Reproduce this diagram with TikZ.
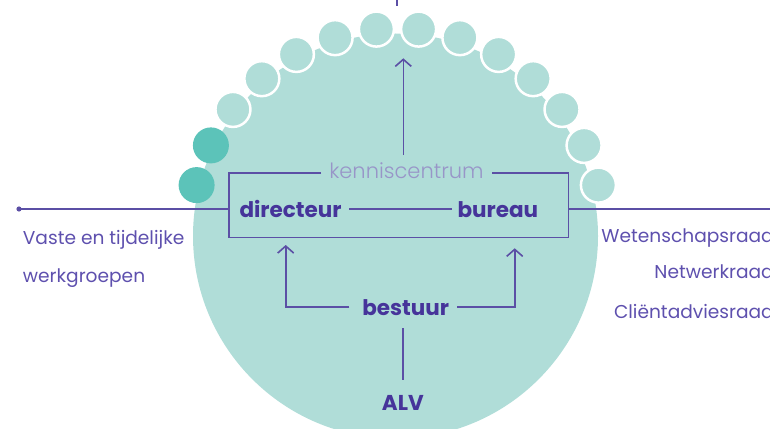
\documentclass[tikz,border=0pt]{standalone}
\usepackage{fontspec}
\setmainfont{Poppins}
\IfFontExistsTF{Poppins Light}{\newfontfamily\lightfont{Poppins Light}}{\newfontfamily\lightfont{Poppins}}
\usetikzlibrary{arrows.meta}
\definecolor{tealA}{HTML}{B0DDD8}
\definecolor{tealB}{HTML}{5CC3B9}
\definecolor{pline}{HTML}{5B4FA5}
\definecolor{pbold}{HTML}{46349A}
\definecolor{ptext}{HTML}{5E50AE}
\definecolor{plight}{HTML}{9895C8}
\begin{document}
\begin{tikzpicture}[x=1pt,y=-1pt,
  conn/.style={draw=pline,line width=1.6pt},
  arr/.style={conn,-{Straight Barb[length=7pt,width=16pt]}},
  lab/.style={font=\fontsize{21.5}{21.5}\selectfont\bfseries,text=pbold,inner sep=0pt},
  side/.style={font=\fontsize{18.6}{18.6}\selectfont,text=ptext,inner sep=0pt},
  klab/.style={font=\fontsize{21}{21}\selectfont\lightfont,text=plight,inner sep=0pt},
  kbox/.style={inner sep=0pt,minimum width=339.3pt,minimum height=64pt},
  bubble/.style={fill=tealA,draw=white,line width=2.5pt},
  darkbubble/.style={fill=tealB}]
\useasboundingbox (0,0) rectangle (770,428);
\clip (0,0) rectangle (770,428);
% big circle
\fill[tealA] (395.5,236) circle[radius=202.5];
% bubbles
\foreach \k in {0,...,6}{
  \pgfmathsetmacro{\d}{5.85+11.7*\k}
  \draw[bubble] ({397.5+207*sin(\d)},{235-207*cos(\d)}) circle[radius=17.5];
  \ifnum\k<5
    \draw[bubble] ({397.5-207*sin(\d)},{235-207*cos(\d)}) circle[radius=17.5];
  \else
    \fill[darkbubble] ({397.5-207*sin(\d)},{235-207*cos(\d)}) circle[radius=18];
  \fi
}
% nodes
\node[kbox] (box) at (398.65,205.3) {};
\node[klab,anchor=base] (kl) at (406.5,178.3) {kenniscentrum};
\node[lab,anchor=base west] (dir) at (239.3,217.7) {directeur};
\node[lab,anchor=base west] (bur) at (457.3,217.7) {bureau};
\node[lab,anchor=base] (bes) at (405.7,315) {bestuur};
\node[lab,anchor=base] (alv) at (402.8,410) {ALV};
\node[side,anchor=base west] (v1) at (22.7,244.3) {Vaste en tijdelijke};
\node[side,anchor=base west] (v2) at (22.7,282.7) {werkgroepen};
\node[side,anchor=base east] (r1) at (774,242.7) {Wetenschapsraad};
\node[side,anchor=base east] (r2) at (774,278.3) {Netwerkraad};
\node[side,anchor=base east] (r3) at (774,318.3) {Cliëntadviesraad};
% coordinates
\coordinate (kL) at ([xshift=-8pt]kl.west);
\coordinate (kR) at ([xshift=8pt]kl.east);
\coordinate (dot) at (19,209);
\coordinate (rend) at (770,209);
\coordinate (lt) at (285.7,245);
\coordinate (rt) at (514.7,248.3);
\coordinate (ta) at (403.3,155);
\coordinate (tb) at (403.3,58.3);
\coordinate (t0) at (397,0);
\coordinate (t1) at (397,6);
\coordinate (dL) at ([xshift=7.6pt]dir.east);
\coordinate (bL) at ([xshift=-5.6pt]bur.west);
% box with gap
\draw[conn] (kL |- box.north) -- (box.north west) -- (box.south west) -- (box.south east) -- (box.north east) -- (kR |- box.north);
% connectors
\draw[conn] (dL) -- (dL -| bL);
\draw[arr] ([xshift=-12.7pt]bes.west) -| (lt);
\draw[arr] ([xshift=8pt]bes.east) -| (rt);
\draw[conn,shorten <=13pt,shorten >=15pt] (alv.base |- bes.base) -- (alv.north);
\draw[arr] (ta) -- (tb);
\draw[conn] (t0) -- (t1);
\fill[pline] (dot) circle[radius=2.6];
\draw[conn] (dot) -- (dot -| box.west);
\draw[conn] (box.east |- rend) -- (rend);
\end{tikzpicture}
\end{document}
